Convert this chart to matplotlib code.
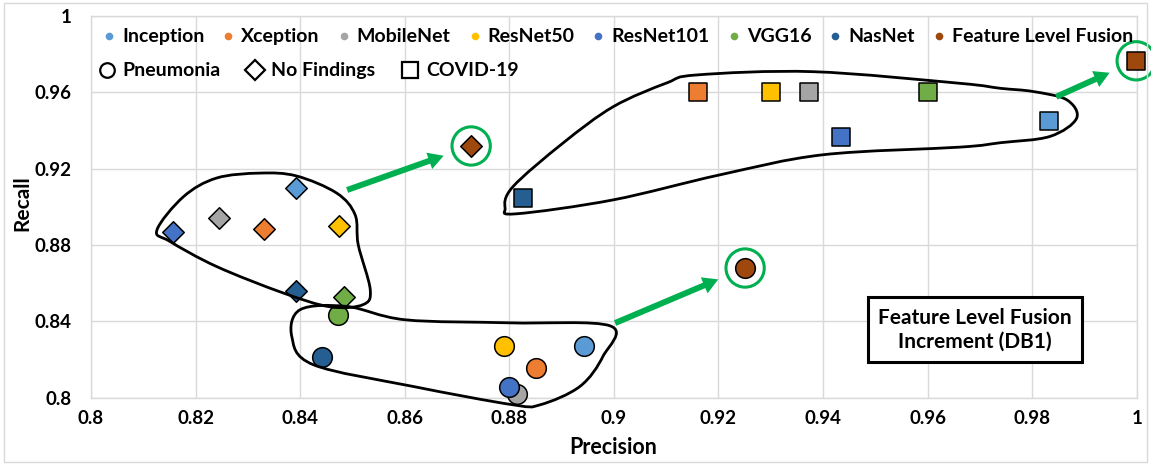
import matplotlib
matplotlib.use('Agg')
import matplotlib.pyplot as plt
import numpy as np
from matplotlib.lines import Line2D
from matplotlib.path import Path
from matplotlib.patches import PathPatch, Rectangle
from matplotlib.ticker import FuncFormatter, MultipleLocator

plt.rcParams['font.family'] = ['Lato', 'DejaVu Sans']
plt.rcParams['font.weight'] = 'bold'

# models, last one is the fused result
models = ['Inception', 'Xception', 'MobileNet', 'ResNet50', 'ResNet101',
          'VGG16', 'NasNet', 'Feature Level Fusion']
colors = ['#5B9BD5', '#ED7D31', '#A5A5A5', '#FFC000', '#4472C4',
          '#70AD47', '#255E91', '#9E480E']

# Pneumonia (circles)
pneu_precision = [0.8943, 0.8851, 0.8815, 0.8789, 0.8800, 0.8473, 0.8441, 0.9251]
pneu_recall = [0.8272, 0.8154, 0.8018, 0.8272, 0.8058, 0.8433, 0.8215, 0.8679]
# No Findings (diamonds)
nof_precision = [0.8392, 0.8330, 0.8244, 0.8475, 0.8156, 0.8484, 0.8392, 0.8727]
nof_recall = [0.9099, 0.8882, 0.8942, 0.8901, 0.8866, 0.8526, 0.8559, 0.9318]
# COVID-19 (squares)
cov_precision = [0.9833, 0.9160, 0.9373, 0.9300, 0.9434, 0.9600, 0.8827, 0.9999]
cov_recall = [0.9450, 0.9600, 0.9600, 0.9600, 0.9363, 0.9600, 0.9044, 0.9764]

classes = ['Pneumonia', 'No Findings', 'COVID-19']

# hand drawn outlines around each class group (precision, recall)
outline_nof = [(0.8126, 0.8878), (0.8177, 0.9053), (0.8240, 0.9150), (0.8323, 0.9176),
               (0.8393, 0.9161), (0.8470, 0.9071), (0.8505, 0.8958), (0.8511, 0.8801),
               (0.8534, 0.8566), (0.8520, 0.8487), (0.8457, 0.8476), (0.8367, 0.8549),
               (0.8240, 0.8687), (0.8151, 0.8818)]
outline_pneu = [(0.8489, 0.8478), (0.8400, 0.8461), (0.8384, 0.8320), (0.8425, 0.8173),
                (0.8616, 0.8059), (0.8807, 0.7963), (0.8859, 0.7963), (0.8935, 0.8059),
                (0.8979, 0.8216), (0.8993, 0.8376), (0.8801, 0.8392), (0.8601, 0.8408)]
outline_cov = [(0.8792, 0.8993), (0.8814, 0.8963), (0.8999, 0.9036), (0.9203, 0.9167),
               (0.9400, 0.9272), (0.9662, 0.9312), (0.9739, 0.9335), (0.9834, 0.9368),
               (0.9885, 0.9463), (0.9866, 0.9560), (0.9802, 0.9603), (0.9739, 0.9620),
               (0.9662, 0.9646), (0.9381, 0.9707), (0.9159, 0.9690), (0.9101, 0.9648),
               (0.8999, 0.9524), (0.8903, 0.9334), (0.8807, 0.9105)]


def closed_curve(pts):
    # closed Catmull-Rom spline turned into cubic bezier segments
    p = np.asarray(pts)
    n = len(p)
    verts = [p[0]]
    codes = [Path.MOVETO]
    for i in range(n):
        p0, p1, p2, p3 = p[i - 1], p[i], p[(i + 1) % n], p[(i + 2) % n]
        verts += [p1 + (p2 - p0) / 6, p2 - (p3 - p1) / 6, p2]
        codes += [Path.CURVE4] * 3
    return Path(verts, codes)


fig = plt.figure(figsize=(11.51, 4.65), dpi=100)
ax = fig.add_axes([0.0791, 0.1447, 0.9085, 0.8215])

grid_c = '#D9D9D9'
ax.set_xlim(0.8, 1.0)
ax.set_ylim(0.8, 1.0)
ax.xaxis.set_major_locator(MultipleLocator(0.02))
ax.yaxis.set_major_locator(MultipleLocator(0.04))
fmt = FuncFormatter(lambda v, _: '%g' % round(v, 2))
ax.xaxis.set_major_formatter(fmt)
ax.yaxis.set_major_formatter(fmt)
ax.grid(True, color=grid_c, lw=1.0)
ax.set_axisbelow(True)
for s in ax.spines.values():
    s.set_color(grid_c)
    s.set_linewidth(1.0)
ax.tick_params(length=0, labelsize=13.5, colors='#000000')
ax.tick_params(axis='x', pad=9)
ax.tick_params(axis='y', pad=14)

ax.set_xlabel('Precision', fontsize=15.5, fontweight='bold')
ax.set_ylabel('Recall', fontsize=15, fontweight='bold')
ax.xaxis.set_label_coords(0.499, -0.104)
ax.yaxis.set_label_coords(-0.056, 0.51)

# markers per model
for i, c in enumerate(models):
    ax.scatter(pneu_precision[i], pneu_recall[i], s=200, marker='o', color=colors[i],
               edgecolors='black', linewidths=1.1, zorder=3, clip_on=False)
    ax.scatter(nof_precision[i], nof_recall[i], s=120, marker='D', color=colors[i],
               edgecolors='black', linewidths=1.1, zorder=3, clip_on=False)
    ax.scatter(cov_precision[i], cov_recall[i], s=170, marker='s', color=colors[i],
               edgecolors='black', linewidths=1.1, zorder=3, clip_on=False)

# outlines
for pts in (outline_nof, outline_pneu, outline_cov):
    ax.add_patch(PathPatch(closed_curve(pts), fc='none', ec='black', lw=2.0,
                           zorder=4, clip_on=False))

# highlight the fused results with rings and arrows
green = '#00B050'
fx = [pneu_precision[-1], nof_precision[-1], cov_precision[-1]]
fy = [pneu_recall[-1], nof_recall[-1], cov_recall[-1]]
ax.scatter(fx, fy, s=760, marker='o', facecolors='none', edgecolors=green,
           linewidths=2.2, zorder=5, clip_on=False)
arrow_offsets = [(-93.6, -39.6), (-89.3, -31.7), (-57.6, -25.9)]
for x, y, off in zip(fx, fy, arrow_offsets):
    ax.annotate('', xy=(x, y), xytext=off, textcoords='offset points',
                arrowprops=dict(arrowstyle='simple,head_length=1.1,head_width=1.25,tail_width=0.43',
                                mutation_scale=10, color=green, lw=0,
                                shrinkA=0, shrinkB=21), zorder=5)

ax.text(0.8454, 0.1785, 'Feature Level Fusion\nIncrement (DB1)', transform=ax.transAxes,
        ha='center', va='center', fontsize=15, fontweight='bold', linespacing=1.25,
        bbox=dict(boxstyle='square,pad=0.5', fc='white', ec='black', lw=2.2), zorder=6)

# legends
model_handles = [Line2D([0], [0], marker='o', ls='', color=c, ms=5.5, mew=0) for c in colors]
leg1 = ax.legend(model_handles, models, ncol=8, loc='upper left', bbox_to_anchor=(0.012, 0.967),
                 frameon=False, fontsize=14, handlelength=0.55, handletextpad=0.4,
                 columnspacing=0.95, borderaxespad=0, borderpad=0)
ax.add_artist(leg1)
shape_handles = [Line2D([0], [0], marker=m, ls='', mfc='white', mec='black', ms=ms, mew=1.6)
                 for m, ms in (('o', 10.5), ('D', 10), ('s', 11))]
ax.legend(shape_handles, classes, ncol=3, loc='upper left', bbox_to_anchor=(0.006, 0.878),
          frameon=False, fontsize=14, handlelength=0.95, handletextpad=0.35,
          columnspacing=1.3, borderaxespad=0, borderpad=0)

# chart border
fig.add_artist(Rectangle((4 / 1151, 3 / 465), 1143 / 1151, 459 / 465, transform=fig.transFigure,
                         fill=False, ec=grid_c, lw=1.0))

fig.savefig('out.png', dpi=100)
